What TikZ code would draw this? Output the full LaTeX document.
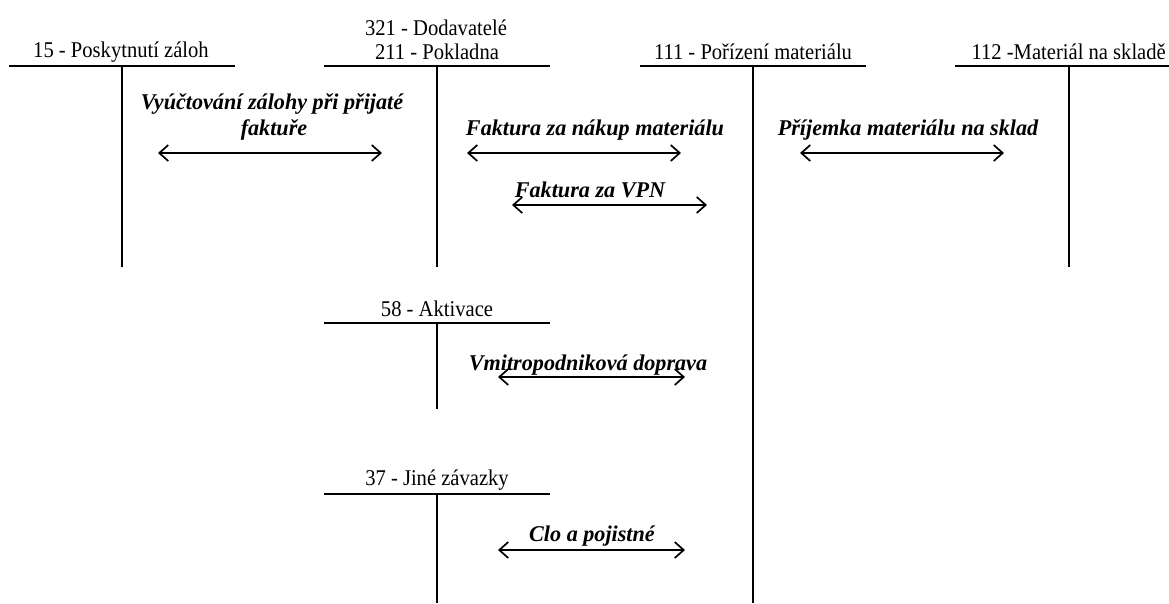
\documentclass[tikz,border=0pt]{standalone}
\usepackage{fontspec}
\usepackage{graphicx}
\setmainfont{Liberation Serif}
\usetikzlibrary{arrows.meta}
\newcommand{\acctxt}[1]{\scalebox{0.915}[1]{#1}}
\newcommand{\lbltxt}[1]{\scalebox{0.985}[1]{#1}}
\begin{document}
\begin{tikzpicture}[x=1pt,y=-1pt,
  acct/.style={font=\fontsize{22.5}{24}\selectfont, inner sep=0pt},
  lbl/.style={font=\fontsize{22.5}{24}\selectfont\bfseries\itshape, inner sep=0pt},
  tline/.style={line width=1.8pt},
  flow/.style={line width=1.7pt, {Straight Barb[length=9pt,width=16pt,line width=1.7pt]}-{Straight Barb[length=9pt,width=16pt,line width=1.7pt]}}]
\useasboundingbox (0,0) rectangle (1169,603);
% account titles
\node[acct] (t321) at (436,28) {\acctxt{321 - Dodavatelé}};
\node[acct] (t15) at (121,52) {\acctxt{15 - Poskytnutí záloh}};
\node[acct] (t211) at (437,52) {\acctxt{211 - Pokladna}};
\node[acct] (t111) at (753,52) {\acctxt{111 - Pořízení materiálu}};
\node[acct, anchor=east] (t112) at (1166,52) {\acctxt{112 -Materiál na skladě}};
\node[acct] (t58) at (437,309) {\acctxt{58 - Aktivace}};
\node[acct] (t37) at (437,480) {\acctxt{37 - Jiné závazky}};
% T-account lines
\coordinate (a15l) at (9,66); \coordinate (a15r) at (235,66);
\coordinate (a15t) at (122,66); \coordinate (a15b) at (122,267);
\coordinate (a211l) at (324,66); \coordinate (a211r) at (550,66);
\coordinate (a211t) at (437,66); \coordinate (a211b) at (437,267);
\coordinate (a111l) at (640,66); \coordinate (a111r) at (866,66);
\coordinate (a111t) at (753,66); \coordinate (a111b) at (753,603);
\coordinate (a112l) at (955,66); \coordinate (a112r) at (1169,66);
\coordinate (a112t) at (1069,66); \coordinate (a112b) at (1069,267);
\coordinate (a58l) at (324,323); \coordinate (a58r) at (550,323);
\coordinate (a58t) at (437,323); \coordinate (a58b) at (437,409);
\coordinate (a37l) at (324,494); \coordinate (a37r) at (550,494);
\coordinate (a37t) at (437,494); \coordinate (a37b) at (437,603);
\foreach \n in {15,211,111,112,58,37}{
  \draw[tline] (a\n l) -- (a\n r);
  \draw[tline] (a\n t) -- (a\n b);
}
% flow labels
\node[lbl] (l1a) at (272,104) {\lbltxt{Vyúčtování zálohy při přijaté}};
\node[lbl] (l1b) at (274,130) {\lbltxt{faktuře}};
\node[lbl] (l2) at (595,130) {\lbltxt{Faktura za nákup materiálu}};
\node[lbl] (l3) at (908,130) {\lbltxt{Příjemka materiálu na sklad}};
\node[lbl] (l4) at (590,190) {\lbltxt{Faktura za VPN}};
\node[lbl] (l5) at (588,365) {\lbltxt{Vmitropodniková doprava}};
\node[lbl] (l6) at (592,536) {\lbltxt{Clo a pojistné}};
% flow arrows
\coordinate (f1l) at (158,153); \coordinate (f1r) at (382,153);
\coordinate (f2l) at (467,153); \coordinate (f2r) at (681,153);
\coordinate (f3l) at (800,153); \coordinate (f3r) at (1004,153);
\coordinate (f4l) at (512,205); \coordinate (f4r) at (707,205);
\coordinate (f5l) at (498,377); \coordinate (f5r) at (685,377);
\coordinate (f6l) at (498,550); \coordinate (f6r) at (685,550);
\foreach \n in {1,...,6}{ \draw[flow] (f\n l) -- (f\n r); }
\end{tikzpicture}
\end{document}
